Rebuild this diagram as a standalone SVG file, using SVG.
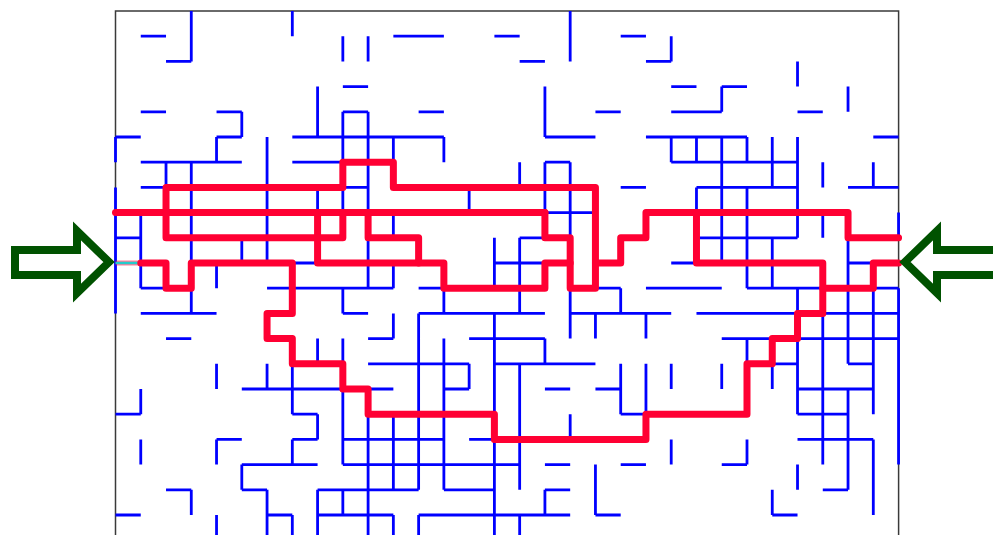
<svg xmlns="http://www.w3.org/2000/svg" width="993" height="535" viewBox="0 0 993 535">
<style>
.g path{fill:none;vector-effect:non-scaling-stroke}
.wall{stroke:#0000ff;stroke-width:2.8;stroke-linecap:butt}
.route{stroke:#ff0033;stroke-width:7;stroke-linecap:round;stroke-linejoin:round}
.arrow{fill:#fff;stroke:#005200;stroke-width:8;stroke-linejoin:miter;stroke-miterlimit:10}
</style>
<rect width="993" height="535" fill="#fff"/>
<g id="frame"><path d="M115.5 540V11H898.6V540" fill="none" stroke="#3a3a3a" stroke-width="1.5"/></g>
<g id="maze" class="g" transform="translate(115.5 11) scale(25.26 25.2)">
<path class="wall" d="M1 1h1M11 1h2M15 1h1M20 1h1M2 2h1M16 2h1M21 2h1M9 3h1M22 3h1M24 3h1M1 4h1M4 4h1M9 4h1M12 4h1M19 4h1M22 4h2M27 4h1M0 5h1M4 5h1M7 5h6M17 5h2M21 5h4M30 5h1M1 6h4M7 6h2M17 6h1M22 6h5M1 7h1M9 7h1M20 7h1M23 7h4M29 7h2M17 8h2M0 9h1M16 9h1M23 9h4M7 10h1M15 10h2M22 10h1M29 10h1M1 11h1M6 11h5M12 11h1M19 11h1M21 11h3M25 11h3M30 11h1M1 12h3M9 12h1M12 12h5M18 12h4M23 12h8M2 13h1M10 13h1M14 13h3M24 13h7M10 14h4M15 14h4M26 14h1M29 14h1M5 15h6M13 15h1M17 15h1M19 15h1M27 15h3M0 16h1M7 16h1M20 16h2M27 16h2M4 17h1M7 17h1M9 17h4M14 17h1M27 17h3M5 18h3M9 18h7M17 18h1M20 18h1M24 18h1M2 19h1M5 19h1M8 19h4M13 19h2M17 19h1M28 19h1M0 20h1M6 20h1M8 20h3M12 20h6M19 20h1M26 20h1"/>
<path class="wall" d="M0 5v1M0 7v5M1 8v3M1 15v1M1 17v1M2 6v1M3 0v2M3 6v6M3 19v1M4 5v1M4 10v1M4 14v1M4 17v1M4 20v1M5 4v1M5 9v1M5 18v1M6 5v5M6 14v1M6 19v2M7 0v1M7 14v2M7 17v1M7 20v1M8 3v2M8 7v1M8 13v1M8 16v1M8 19v2M9 1v1M9 4v2M9 7v1M9 11v1M9 13v1M9 15v3M9 19v1M10 1v1M10 4v4M10 9v2M10 16v5M11 5v1M11 8v1M11 10v1M11 12v1M11 16v3M11 20v1M12 12v7M12 20v1M13 5v1M13 11v1M13 13v6M14 7v1M14 14v1M15 9v2M15 12v9M16 6v1M16 9v3M16 14v5M16 20v1M17 3v2M17 6v3M17 13v1M17 19v1M18 0v2M18 6v3M18 11v2M18 16v1M19 12v1M19 18v2M20 11v1M20 14v2M21 12v1M21 14v2M22 1v1M22 5v1M22 14v1M22 17v1M23 5v1M23 7v1M24 3v1M24 5v5M24 14v1M25 5v1M25 7v4M25 13v1M25 17v1M26 5v2M26 9v2M26 14v1M26 19v1M27 2v1M27 5v4M27 11v5M27 18v1M28 6v1M28 8v1M28 12v6M29 3v1M29 9v5M29 15v4M30 6v1M30 11v5M30 17v3M31 8v1M31 11v7"/>
</g>
<g id="connectors" class="g" transform="translate(115.5 11) scale(25.26 25.2)">
<path d="M0 10H1" style="stroke:#ff0033;stroke-width:5;opacity:.5"/>
<path d="M0 10H1" style="stroke:#22cccc;stroke-width:2.5"/>
<path class="route" d="M0 8H17"/>
<path class="route" d="M17 8V9H18V11H19V7H11V6H9V7H2V9H9V8"/>
<path class="route" d="M8 8V10H13V11H17V10H18"/>
<path class="route" d="M10 8V9H12V10"/>
<path class="route" d="M1 10H2V11H3V10H7V12H6V13H7V14H9V15H10V16H15V17H21V16H25V14H26V13H27V12H28V10H23V8H29V9H31"/>
<path class="route" d="M19 10H20V9H21V8H23"/>
<path class="route" d="M28 11H30V10H31"/>
</g>
<g id="entry-arrow"><path class="arrow" d="M15 250H77V231L109 262L77 293V275H15Z"/></g>
<g id="exit-arrow"><path class="arrow" d="M1000 250H937V231L905 262L937 293V275H1000Z"/></g>
</svg>
